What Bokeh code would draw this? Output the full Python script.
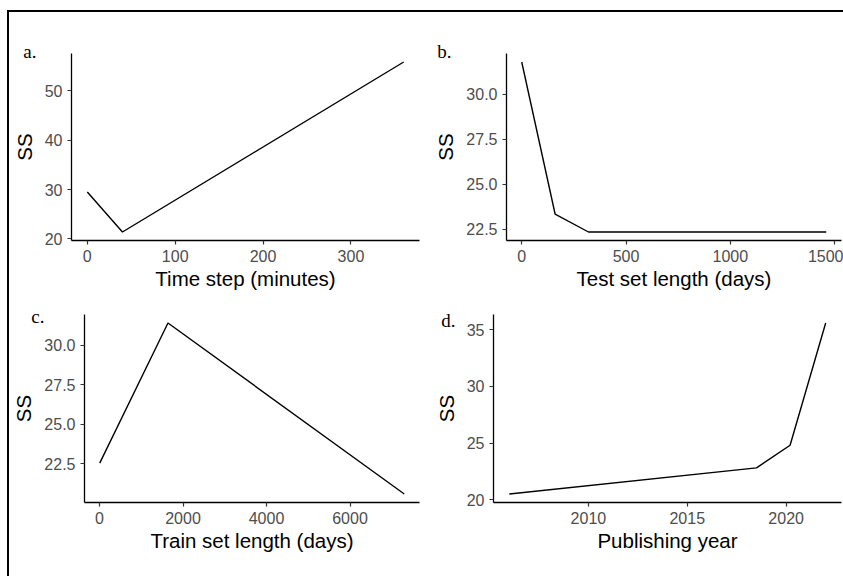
from bokeh.plotting import figure
from bokeh.layouts import column, row
from bokeh.models import Range1d, FixedTicker, Div, Spacer
from bokeh.embed import file_html
from bokeh.resources import INLINE

# ---- data ----
a_x = [0, 40, 360]
a_y = [29.5, 21.4, 55.8]
a_xticks = [0, 100, 200, 300]
a_yticks = [20, 30, 40, 50]

b_x = [0, 160, 320, 1460]
b_y = [31.8, 23.35, 22.35, 22.35]
b_xticks = [0, 500, 1000, 1500]
b_yticks = [22.5, 25.0, 27.5, 30.0]

c_x = [5, 1640, 7300]
c_y = [22.55, 31.4, 20.6]
c_xticks = [0, 2000, 4000, 6000]
c_yticks = [22.5, 25.0, 27.5, 30.0]

d_x = [2006, 2018.5, 2020.2, 2022]
d_y = [20.5, 22.8, 24.8, 35.6]
d_xticks = [2010, 2015, 2020]
d_yticks = [20, 25, 30, 35]

panels = [
    ("a.", a_x, a_y, a_xticks, a_yticks, "Time step (minutes)", False),
    ("b.", b_x, b_y, b_xticks, b_yticks, "Test set length (days)", True),
    ("c.", c_x, c_y, c_xticks, c_yticks, "Train set length (days)", True),
    ("d.", d_x, d_y, d_xticks, d_yticks, "Publishing year", False),
]

# layout geometry: (width, height, left, right, top, bottom, tag_offset, tag_standoff)
geom = [
    (419, 280, 62, 9, 41, 50, -48.3, -16),
    (415, 280, 78, 2, 41, 50, -69.3, -16),
    (419, 284, 75, 9, 22, 74, -53.3, -24.6),
    (415, 284, 65, 2, 22, 74, -52.3, -33.4),
]


def expand(vals, f=0.05):
    lo, hi = min(vals), max(vals)
    e = (hi - lo) * f
    return lo - e, hi + e


figs = []
for (tag, xs, ys, xt, yt, xlab, onedec), (w, h, l, r, t, b, toff, tstd) in zip(panels, geom):
    x0, x1 = expand(xs)
    y0, y1 = expand(ys)
    p = figure(width=w, height=h, output_backend="svg", toolbar_location=None,
               x_range=Range1d(x0, x1), y_range=Range1d(y0, y1),
               min_border_left=l, min_border_right=r,
               min_border_top=t, min_border_bottom=b, title=tag)
    p.title.align = "left"
    p.title.offset = toff
    p.title.standoff = tstd
    p.title.text_font = "Liberation Serif"
    p.title.text_font_size = "19px"
    p.title.text_font_style = "normal"
    p.title.text_color = "black"
    p.line(xs, ys, line_color="black", line_width=1.4)
    p.grid.visible = False
    p.outline_line_color = None
    p.background_fill_color = "white"
    p.border_fill_color = "white"
    for ax in (p.xaxis[0], p.yaxis[0]):
        ax.axis_line_color = "black"
        ax.axis_line_width = 1.3
        ax.major_tick_line_color = "#333333"
        ax.major_tick_line_width = 1.2
        ax.major_tick_in = 0
        ax.major_tick_out = 4
        ax.minor_tick_line_color = None
        ax.major_label_text_font = "Liberation Sans"
        ax.major_label_text_font_size = "16px"
        ax.major_label_text_color = "#4D4D4D"
        ax.major_label_standoff = 5
        ax.axis_label_text_font = "Liberation Sans"
        ax.axis_label_text_font_size = "20.5px"
        ax.axis_label_text_font_style = "normal"
        ax.axis_label_text_color = "black"
    p.xaxis.ticker = FixedTicker(ticks=xt)
    p.yaxis.ticker = FixedTicker(ticks=yt)
    if onedec:
        p.yaxis.major_label_overrides = {v: f"{v:.1f}" for v in yt}
    p.xaxis.axis_label = xlab
    p.yaxis.axis_label = "SS"
    p.xaxis.axis_label_standoff = 2
    p.yaxis.axis_label_standoff = 6
    figs.append(p)

top_line = Div(text="", width=836, height=2, margin=0, styles={"background-color": "black"})
left_line = Div(text="", width=2, height=564, margin=0, styles={"background-color": "black"})
grid = column(row(figs[0], figs[1]), row(figs[2], figs[3]))
layout = row(Spacer(width=7, height=576),
             column(Spacer(width=836, height=10), top_line, row(left_line, grid)))

open("out.html", "w").write(file_html(layout, INLINE))
